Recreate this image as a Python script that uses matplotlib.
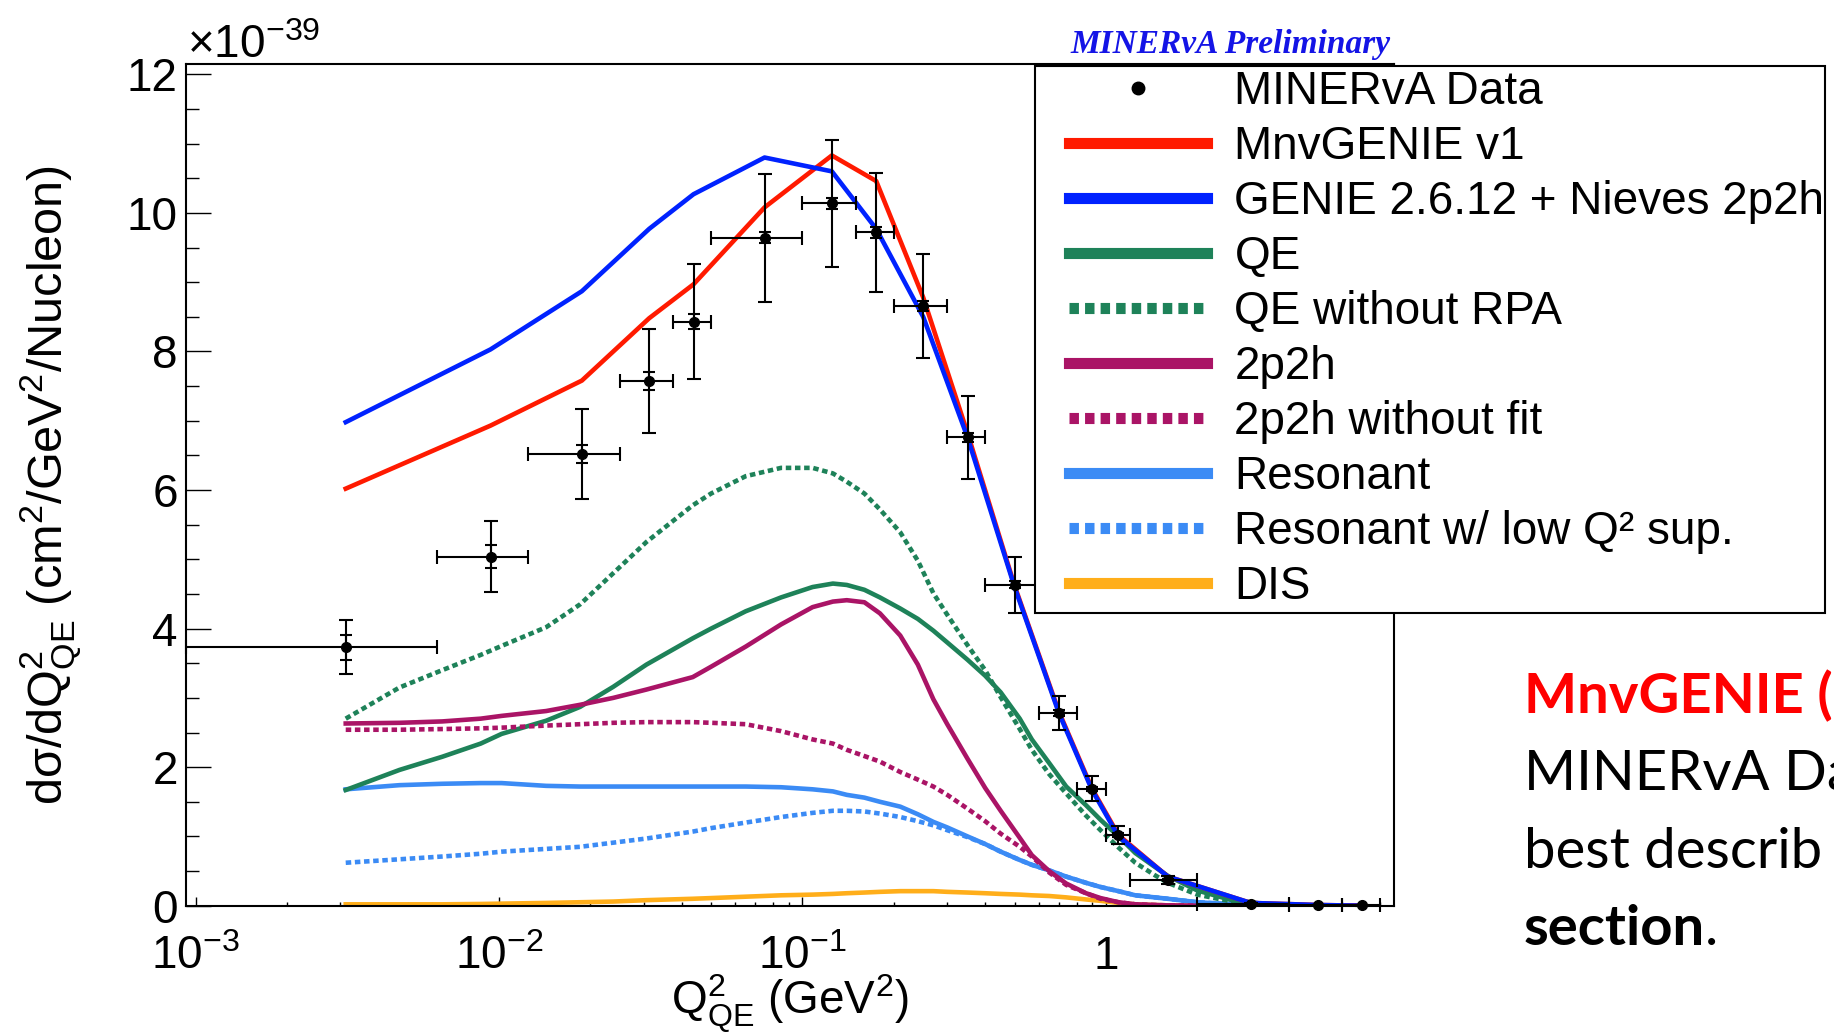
import numpy as np
import matplotlib
matplotlib.use("Agg")
import matplotlib.pyplot as plt
from matplotlib.lines import Line2D
from matplotlib.patches import Rectangle
from matplotlib.ticker import MultipleLocator, LogLocator, NullFormatter, FuncFormatter

# Q2_QE bin edges (GeV^2)
q2_edges = [0, 0.00625, 0.0125, 0.025, 0.0375, 0.05, 0.1, 0.15, 0.2, 0.3,
            0.4, 0.6, 0.8, 1.0, 1.2, 2.0, 4.0, 6.0, 8.0]

# MINERvA data, units of 1e-39 cm^2/GeV^2/nucleon
data_xsec = [3.73, 5.04, 6.52, 7.58, 8.43, 9.64, 10.14, 9.72, 8.66, 6.76,
             4.63, 2.78, 1.69, 1.02, 0.37, 0.025, 0.006, 0.003]
data_err_tot = [0.39, 0.51, 0.65, 0.75, 0.83, 0.92, 0.92, 0.86, 0.75, 0.60,
                0.41, 0.24, 0.18, 0.13, 0.06, 0.01, 0.003, 0.002]
data_err_stat = [0.18, 0.16, 0.13, 0.13, 0.11, 0.08, 0.08, 0.08, 0.07, 0.06,
                 0.05, 0.04, 0.03, 0.03, 0.02, 0.005, 0.002, 0.001]

# full predictions at the bin centres
mnvgenie_v1 = [6.02, 6.93, 7.58, 8.48, 8.97, 10.08, 10.83, 10.46, 8.78, 6.82,
               4.62, 2.80, 1.69, 1.02, 0.42, 0.04, 0.01, 0.0]
genie_nieves = [6.98, 8.03, 8.87, 9.77, 10.27, 10.80, 10.60, 9.77, 8.50, 6.76,
                4.60, 2.78, 1.67, 1.00, 0.42, 0.04, 0.01, 0.0]

# components (finer binning)
comp_q2 = [0.003125, 0.0047, 0.0065, 0.0087, 0.0102, 0.0143, 0.0185, 0.0238,
           0.0306, 0.0435, 0.05, 0.065, 0.085, 0.108, 0.126, 0.14, 0.16, 0.18,
           0.21, 0.24, 0.27, 0.3, 0.35, 0.4, 0.45, 0.52, 0.57, 0.65, 0.74,
           0.86, 0.96, 1.1, 1.25, 1.45, 1.6, 2.0, 2.6, 3.4, 4.5, 6.0, 7.0]
qe = [1.67, 1.96, 2.15, 2.34, 2.48, 2.67, 2.87, 3.16, 3.48, 3.86, 4.00, 4.25,
      4.45, 4.60, 4.65, 4.63, 4.56, 4.45, 4.29, 4.14, 3.97, 3.80, 3.55, 3.32,
      3.08, 2.70, 2.40, 2.06, 1.72, 1.45, 1.24, 1.00, 0.76, 0.56, 0.43, 0.22,
      0.08, 0.02, 0.005, 0.0, 0.0]
qe_no_rpa = [2.70, 3.15, 3.40, 3.62, 3.75, 4.02, 4.35, 4.80, 5.25, 5.78, 5.95,
             6.20, 6.32, 6.32, 6.24, 6.12, 5.95, 5.72, 5.39, 4.98, 4.51, 4.20,
             3.76, 3.40, 3.01, 2.55, 2.25, 1.90, 1.62, 1.30, 1.09, 0.84, 0.62,
             0.44, 0.33, 0.16, 0.06, 0.02, 0.005, 0.0, 0.0]
twop2h = [2.63, 2.64, 2.66, 2.70, 2.74, 2.81, 2.90, 3.00, 3.12, 3.30, 3.45,
          3.74, 4.06, 4.31, 4.39, 4.41, 4.38, 4.22, 3.90, 3.48, 2.98, 2.62,
          2.12, 1.70, 1.37, 0.98, 0.73, 0.50, 0.32, 0.18, 0.11, 0.05, 0.02,
          0.01, 0.005, 0.0, 0.0, 0.0, 0.0, 0.0, 0.0]
twop2h_no_fit = [2.54, 2.54, 2.55, 2.56, 2.57, 2.60, 2.62, 2.64, 2.65, 2.65,
                 2.64, 2.62, 2.52, 2.40, 2.34, 2.25, 2.16, 2.08, 1.93, 1.82,
                 1.72, 1.60, 1.40, 1.22, 1.04, 0.85, 0.71, 0.48, 0.30, 0.18,
                 0.10, 0.05, 0.02, 0.01, 0.005, 0.0, 0.0, 0.0, 0.0, 0.0, 0.0]
resonant = [1.68, 1.74, 1.76, 1.77, 1.77, 1.73, 1.72, 1.72, 1.72, 1.72, 1.72,
            1.72, 1.71, 1.68, 1.65, 1.60, 1.56, 1.50, 1.43, 1.32, 1.21, 1.13,
            1.00, 0.89, 0.78, 0.66, 0.59, 0.51, 0.42, 0.33, 0.27, 0.21, 0.15,
            0.12, 0.10, 0.05, 0.02, 0.01, 0.0, 0.0, 0.0]
res_low_q2 = [0.62, 0.67, 0.71, 0.75, 0.78, 0.82, 0.85, 0.91, 0.97, 1.07, 1.12,
              1.20, 1.28, 1.34, 1.37, 1.37, 1.36, 1.33, 1.28, 1.22, 1.16, 1.09,
              0.99, 0.89, 0.78, 0.66, 0.59, 0.51, 0.42, 0.33, 0.27, 0.21, 0.15,
              0.12, 0.10, 0.05, 0.02, 0.01, 0.0, 0.0, 0.0]
dis = [0.02, 0.02, 0.02, 0.025, 0.03, 0.04, 0.05, 0.06, 0.08, 0.10, 0.11, 0.13,
       0.15, 0.16, 0.17, 0.18, 0.19, 0.20, 0.21, 0.21, 0.21, 0.20, 0.19, 0.18,
       0.17, 0.16, 0.15, 0.14, 0.12, 0.09, 0.07, 0.04, 0.02, 0.01, 0.005, 0.0,
       0.0, 0.0, 0.0, 0.0, 0.0]

legend_labels = ["MINERvA Data", "MnvGENIE v1", "GENIE 2.6.12 + Nieves 2p2h",
                 "QE", "QE without RPA", "2p2h", "2p2h without fit",
                 "Resonant", "Resonant w/ low Q\u00b2 sup.", "DIS"]

C_RED = "#ff1a00"
C_BLUE = "#0022ff"
C_QE = "#1e8259"
C_2P2H = "#aa1466"
C_RES = "#3b8bf5"
C_DIS = "#ffae1a"

plt.rcParams["font.family"] = "Liberation Sans"
plt.rcParams["mathtext.fontset"] = "custom"
plt.rcParams["mathtext.rm"] = "Liberation Sans"
plt.rcParams["mathtext.it"] = "Liberation Sans:italic"
plt.rcParams["mathtext.bf"] = "Liberation Sans:bold"
plt.rcParams["mathtext.default"] = "regular"

W, H = 1834, 1034
fig = plt.figure(figsize=(W / 100, H / 100), dpi=100)


def fx(px):
    return px / W


def fy(py):
    return 1 - py / H


ax = fig.add_axes([fx(186), fy(905.7), fx(1394) - fx(186), fy(64) - fy(905.7)])

XMIN, XMAX = 9.3e-4, 8.9
edges = np.array(q2_edges)
centres = 0.5 * (edges[:-1] + edges[1:])
lo = np.maximum(edges[:-1], XMIN)
hi = edges[1:]

lw = 3.3
dot = (0, (1.2, 0.8))
ax.plot(comp_q2, dis, color=C_DIS, lw=lw)
ax.plot(comp_q2, res_low_q2, color=C_RES, lw=lw, ls=dot)
ax.plot(comp_q2, resonant, color=C_RES, lw=lw)
ax.plot(comp_q2, qe_no_rpa, color=C_QE, lw=lw, ls=dot)
ax.plot(comp_q2, qe, color=C_QE, lw=lw)
ax.plot(comp_q2, twop2h_no_fit, color=C_2P2H, lw=lw, ls=dot)
ax.plot(comp_q2, twop2h, color=C_2P2H, lw=lw)
ax.plot(centres, mnvgenie_v1, color=C_RED, lw=lw)
ax.plot(centres, genie_nieves, color=C_BLUE, lw=lw)

ax.errorbar(centres, data_xsec, xerr=[centres - lo, hi - centres],
            yerr=data_err_tot, fmt="o", color="k", ms=7, elinewidth=1.5,
            capsize=5, capthick=1.5, clip_on=False, zorder=10)
ax.errorbar(centres, data_xsec, yerr=data_err_stat, fmt="none", ecolor="k",
            elinewidth=1.5, capsize=4, capthick=1.5, clip_on=False, zorder=10)

ax.set_xscale("log")
ax.set_xlim(XMIN, XMAX)
ax.set_ylim(0, 12.15)
ax.yaxis.set_major_locator(MultipleLocator(2))
ax.yaxis.set_minor_locator(MultipleLocator(0.5))
ax.xaxis.set_major_locator(LogLocator(base=10, numticks=10))
ax.xaxis.set_minor_locator(LogLocator(base=10, subs=np.arange(2, 10), numticks=20))
ax.xaxis.set_minor_formatter(NullFormatter())
ax.xaxis.set_major_formatter(FuncFormatter(
    lambda v, p: "1" if abs(v - 1) < 1e-9
    else r"$\mathdefault{10^{%d}}$" % round(np.log10(v))))
ax.tick_params(which="both", direction="in", top=False, right=False,
               labelsize=33, width=1)
ax.tick_params(axis="y", which="major", length=18, pad=6)
ax.tick_params(axis="y", which="minor", length=9.4)
ax.tick_params(axis="x", which="major", length=6.3, pad=21)
ax.tick_params(axis="x", which="minor", length=3.2)
for s in ax.spines.values():
    s.set_linewidth(1.5)

ax.set_ylabel("d\u03c3/dQ$^{2}_{QE}$ (cm$^{2}$/GeV$^{2}$/Nucleon)", fontsize=35)
ax.yaxis.set_label_coords(-0.0856, 0.5)
ax.set_xlabel("Q$^{2}_{QE}$ (GeV$^{2}$)", fontsize=33)
ax.xaxis.set_label_coords(0.5, -0.080)

fig.text(fx(187), fy(58.5), "\u00d710$^{-39}$", fontsize=33, ha="left", va="baseline")
fig.text(fx(1070), fy(53), "MINER\u03bdA Preliminary", fontsize=24,
         family="Liberation Serif", weight="bold", style="italic",
         color="#1414e6", ha="left", va="baseline")

# legend: opaque box + entries
fig.add_artist(Rectangle((fx(1035), fy(613)), fx(1825) - fx(1035), fy(66) - fy(613),
                         transform=fig.transFigure, facecolor="white",
                         edgecolor="k", lw=1.5, zorder=3))
ldot = (0, (0.85, 0.55))
handles = [
    Line2D([], [], ls="none", marker="o", color="k", ms=9),
    Line2D([], [], color=C_RED, lw=8),
    Line2D([], [], color=C_BLUE, lw=8),
    Line2D([], [], color=C_QE, lw=8),
    Line2D([], [], color=C_QE, lw=8, ls=ldot),
    Line2D([], [], color=C_2P2H, lw=8),
    Line2D([], [], color=C_2P2H, lw=8, ls=ldot),
    Line2D([], [], color=C_RES, lw=8),
    Line2D([], [], color=C_RES, lw=8, ls=ldot),
    Line2D([], [], color=C_DIS, lw=8),
]
fig.legend(handles, legend_labels, loc="upper left",
           bbox_to_anchor=(fx(1069), fy(70)), frameon=False, borderpad=0,
           borderaxespad=0, handlelength=3.0, handletextpad=0.61,
           labelspacing=0.24, fontsize=33, numpoints=1)

# slide text to the right of the plot
fs = 40.5
fig.text(fx(1524), fy(713), "MnvGENIE (", color="#ff0000", fontsize=fs,
         weight="bold", family="Lato", va="baseline")
fig.text(fx(1524), fy(790), "MINERvA Da", fontsize=fs, family="Lato", va="baseline")
fig.text(fx(1524), fy(868), "best describ", fontsize=fs, family="Lato", va="baseline")
t = fig.text(fx(1524), fy(945), "section", fontsize=fs, weight="bold",
             family="Lato", va="baseline")
fig.canvas.draw()
bb = t.get_window_extent(fig.canvas.get_renderer())
fig.text(bb.x1 / W, fy(945), ".", fontsize=fs, family="Lato", va="baseline")

fig.savefig("out.png", dpi=100)
